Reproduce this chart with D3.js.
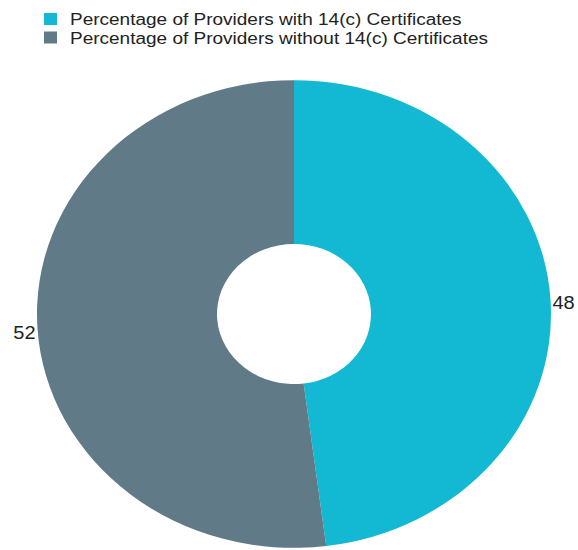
<!DOCTYPE html>
<html>
<head>
<meta charset="utf-8">
<script src="https://cdn.jsdelivr.net/npm/d3@7"></script>
<style>
  body { margin: 0; background: #fff; }
  text { font-family: "Liberation Sans", Arial, sans-serif; fill: #222; }
</style>
</head>
<body>
<svg></svg>
<script>
// chart data
const categories = [
    "Percentage of Providers with 14(c) Certificates",
    "Percentage of Providers without 14(c) Certificates"
];
const values = [48, 52];
const colors = ["#13b9d3", "#607a87"];

const width = 578;
const height = 550;

// the whole original is a bit squashed vertically
const cx = 294, cy = 314;
const outerR = 257;
const innerR = 77;
const yScaleFactor = 0.91;

const svg = d3.select('svg')
    .attr('width', width)
    .attr('height', height);

// legend
const legend = svg.append('g')
    .attr('transform', 'translate(44, 13)');
const rows = legend.selectAll('g')
    .data(categories)
    .enter()
    .append('g')
    .attr('transform', (d, i) => `translate(0, ${i * 18.5})`);
rows.append('rect')
    .attr('width', 13)
    .attr('height', 12)
    .attr('fill', (d, i) => colors[i]);
rows.append('text')
    .attr('transform', `translate(26, 12) scale(1, ${yScaleFactor})`)
    .attr('font-size', '19px')
    .text(d => d);

// pie
const pie = d3.pie().sort(null).value(d => d);
const arcs = pie(values);

const arc = d3.arc()
    .innerRadius(innerR)
    .outerRadius(outerR);

const chart = svg.append('g')
    .attr('transform', `translate(${cx}, ${cy}) scale(1, ${yScaleFactor})`);

chart.selectAll('path')
    .data(arcs)
    .enter()
    .append('path')
    .attr('d', arc)
    .attr('fill', (d, i) => colors[i]);

// value labels just outside the ring
const labelR = outerR + 2;
const midAngle = d => (d.startAngle + d.endAngle) / 2;
svg.selectAll('.value-label')
    .data(arcs)
    .enter()
    .append('text')
    .attr('class', 'value-label')
    .attr('font-size', '20px')
    .attr('text-anchor', d => Math.sin(midAngle(d)) >= 0 ? 'start' : 'end')
    .attr('transform', d => {
        const a = midAngle(d);
        const x = cx + Math.sin(a) * labelR;
        const y = cy - Math.cos(a) * outerR * yScaleFactor + 10;
        return `translate(${x}, ${y}) scale(1, ${yScaleFactor})`;
    })
    .text(d => d.data);
</script>
</body>
</html>
